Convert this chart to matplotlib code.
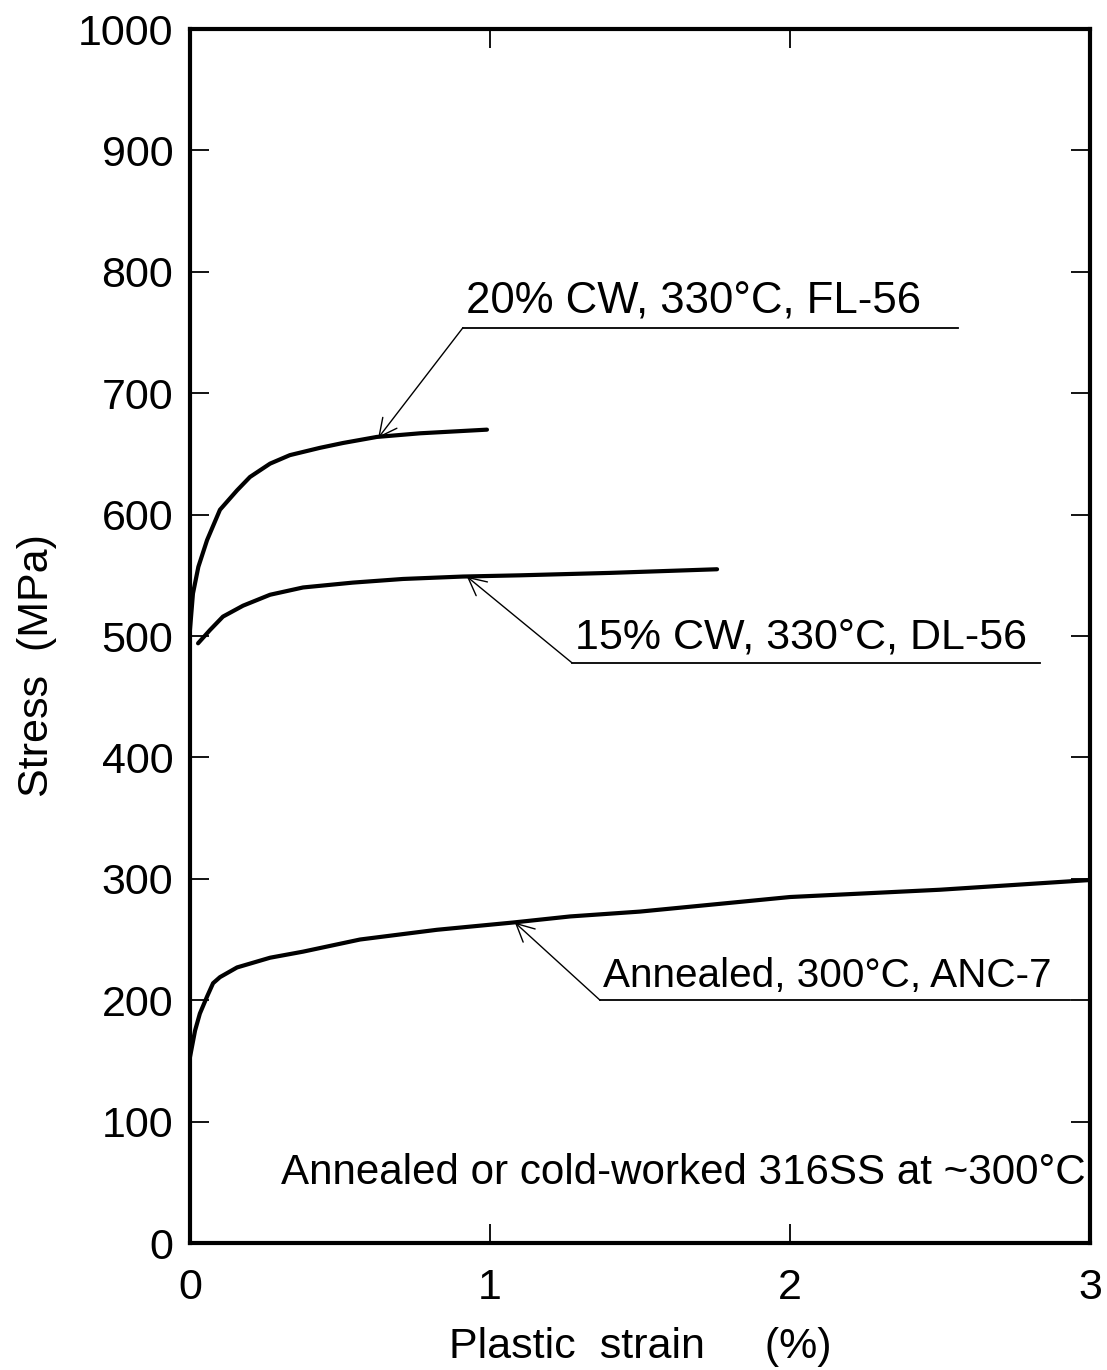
# stress vs plastic strain, 316SS at ~300C

import matplotlib.pyplot as plt

# 20% cold worked, 330C (FL-56)
strain_fl56 = [0, 0.01, 0.028, 0.057, 0.1, 0.157, 0.2, 0.267, 0.333, 0.433, 0.51, 0.623, 0.767, 0.99]
stress_fl56 = [505, 535, 557, 579, 604, 620, 631, 642, 649, 655, 659, 664, 667, 670]

# 15% cold worked, 330C (DL-56)
strain_dl56 = [0.027, 0.067, 0.11, 0.177, 0.267, 0.377, 0.543, 0.71, 0.91, 1.1, 1.4, 1.757]
stress_dl56 = [494, 505, 516, 525, 534, 540, 544, 547, 549, 550, 552, 555]

# annealed, 300C (ANC-7)
strain_anc7 = [0, 0.017, 0.033, 0.057, 0.077, 0.1, 0.157, 0.267, 0.377, 0.567, 0.823,
               1.077, 1.267, 1.5, 2.0, 2.5, 3.0]
stress_anc7 = [153, 175, 189, 203, 214, 219, 227, 235, 240, 250, 258,
               264, 269, 273, 285, 291, 299]

labels = ['20% CW, 330°C, FL-56', '15% CW, 330°C, DL-56', 'Annealed, 300°C, ANC-7']
label_size = [31.5, 31, 29.2]
# (arrow tip x, y), (underline start x, y), underline end x
arrow_tip = [(0.627, 663), (0.923, 549), (1.083, 264)]
line_start = [(0.91, 754), (1.273, 478), (1.367, 200)]
line_end = [2.56, 2.833, 2.933]

plt.rcParams['font.family'] = ['Liberation Sans', 'DejaVu Sans']

fig = plt.figure(figsize=(11.07, 13.7), dpi=100)
ax = fig.add_axes([0.1716, 0.0927, 0.813, 0.8861])

for x, y in [(strain_fl56, stress_fl56), (strain_dl56, stress_dl56), (strain_anc7, stress_anc7)]:
    ax.plot(x, y, color='black', lw=3.0, solid_capstyle='round', solid_joinstyle='round')

for lab, fs, tip, st, xe in zip(labels, label_size, arrow_tip, line_start, line_end):
    ax.plot([st[0], xe], [st[1], st[1]], color='black', lw=1.3)
    ax.annotate('', xy=tip, xytext=st,
                arrowprops=dict(arrowstyle='->', color='black', lw=1.0,
                                mutation_scale=32, shrinkA=0, shrinkB=0))
    ax.text(st[0] + 0.01, st[1] + 4, lab, fontsize=fs, ha='left', va='bottom')

ax.text(2.985, 58, 'Annealed or cold-worked 316SS at ~300°C', fontsize=30.3,
        ha='right', va='center')

ax.set_xlim(0, 3)
ax.set_ylim(0, 1000)
ax.set_xticks([0, 1, 2, 3])
ax.set_yticks(range(0, 1001, 100))
ax.tick_params(direction='in', length=14, width=1.3, labelsize=31,
               top=True, right=True, pad=12)
ax.tick_params(axis='x', pad=18)
for s in ax.spines.values():
    s.set_linewidth(3)

ax.set_xlabel('Plastic  strain     (%)', fontsize=31, labelpad=14)
ax.set_ylabel('Stress  (MPa)', fontsize=31)
ax.yaxis.set_label_coords(-0.148, 0.476)

fig.savefig('out.png', dpi=100)
